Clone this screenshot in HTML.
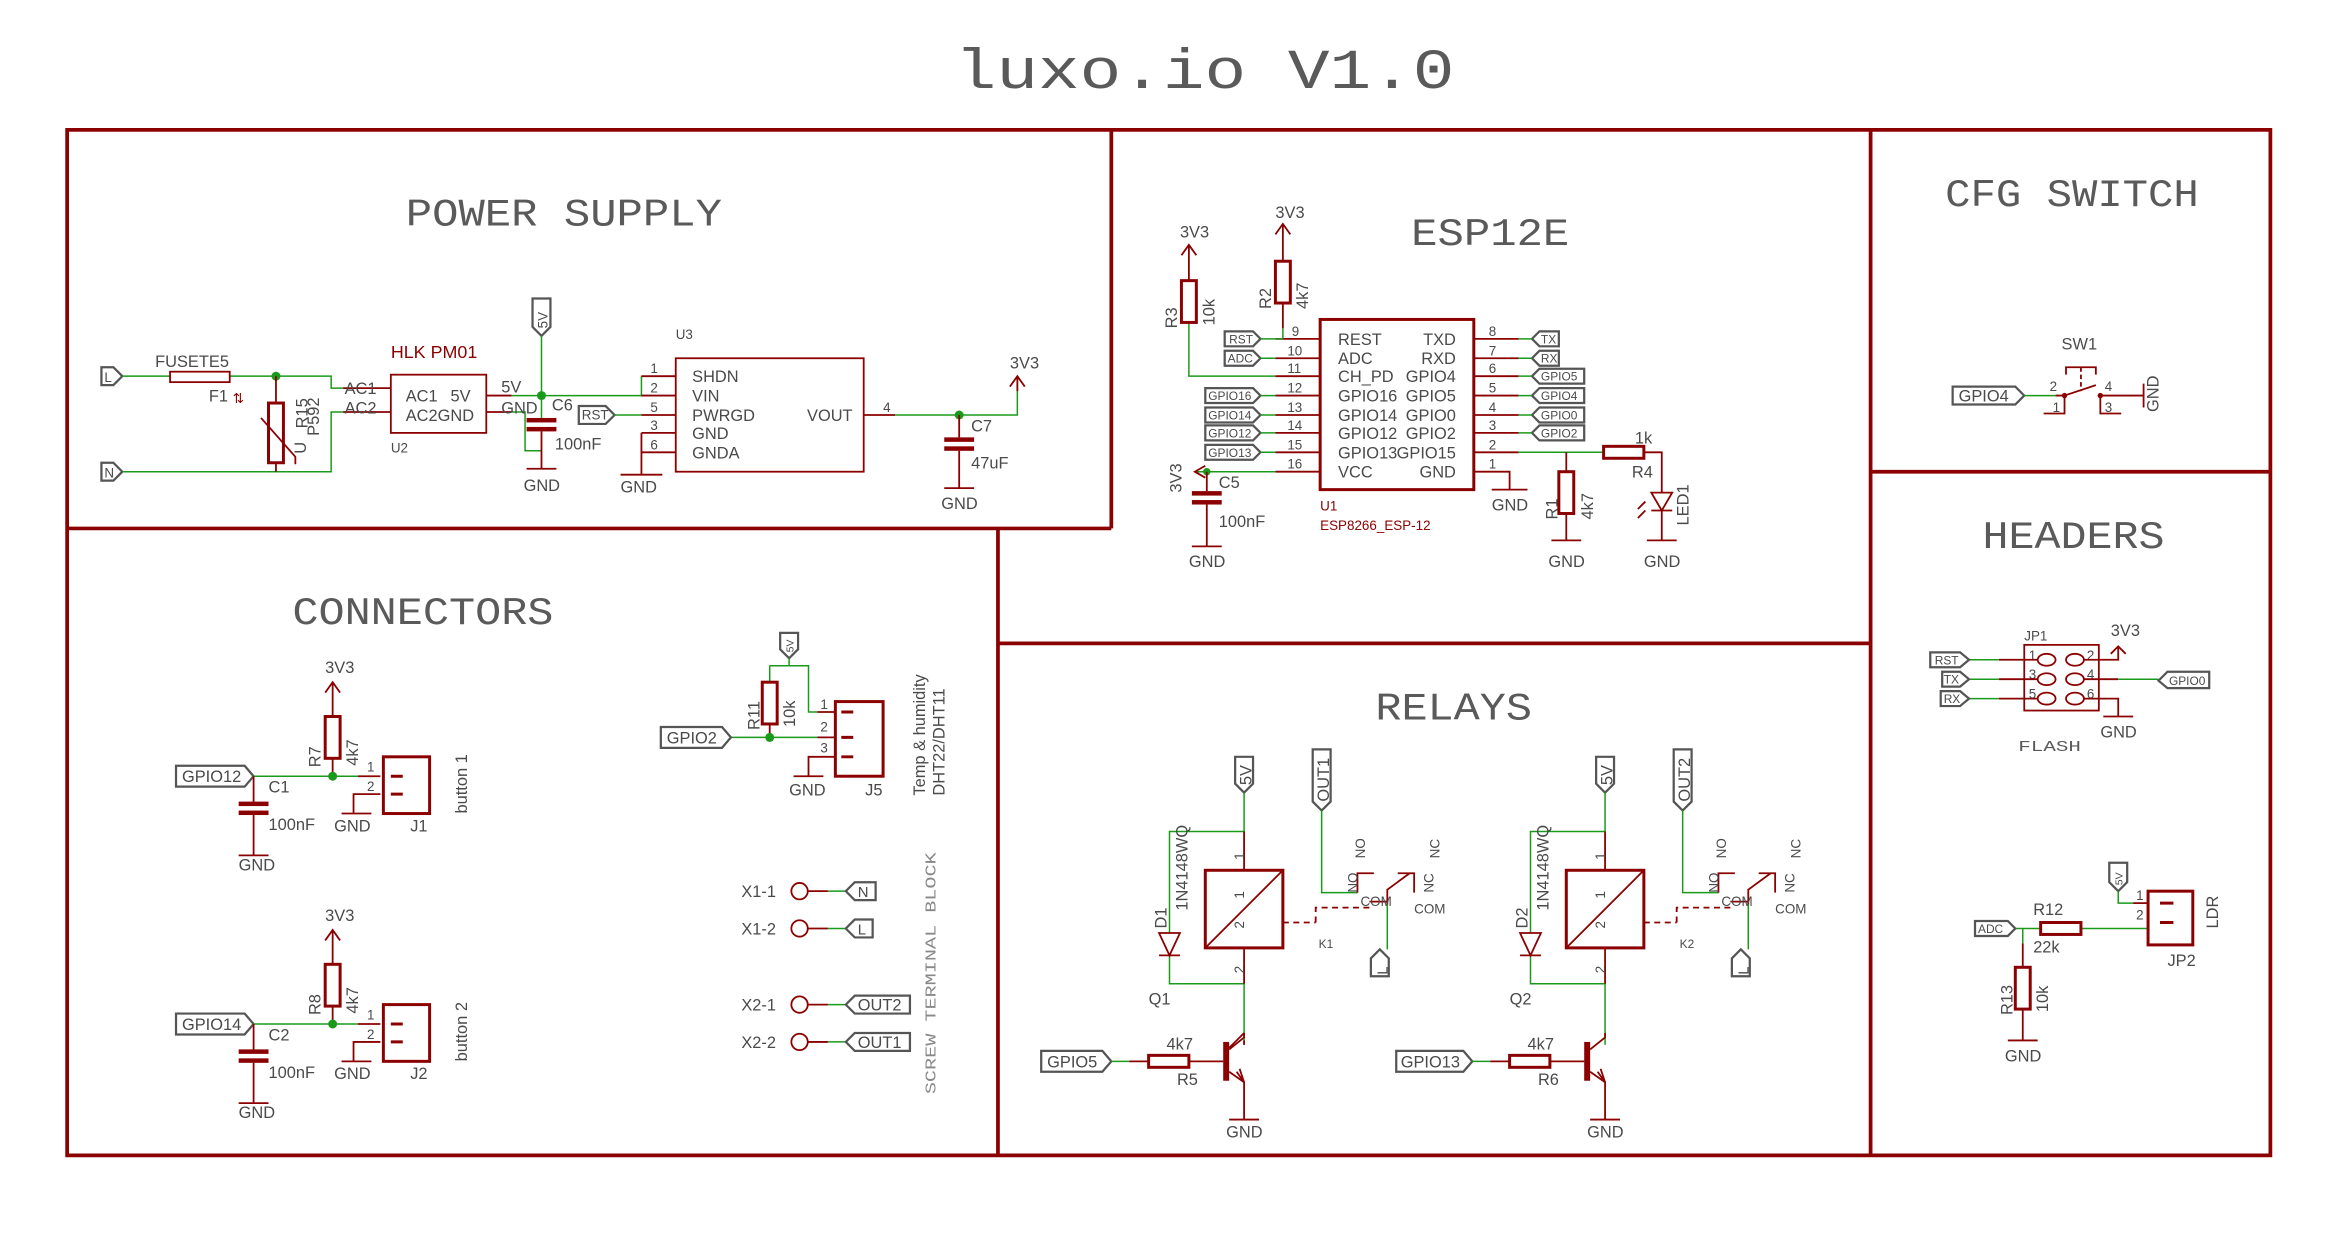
<!DOCTYPE html>
<html><head><meta charset="utf-8"><style>
html,body{margin:0;padding:0;background:#fff}
svg{display:block}
text{font-family:"Liberation Sans Narrow","Liberation Sans",sans-serif;fill:#4a4a4a}
.t{font-family:"Liberation Mono",monospace;fill:#5a5a5a;font-weight:normal}
.r{fill:none;stroke:#8b0000;stroke-width:1.2}
.b{fill:none;stroke:#8b0000;stroke-width:2}
.g{fill:none;stroke:#1a9a1a;stroke-width:1}
.f{fill:#fff;stroke:#555;stroke-width:1.5}
.red{fill:#8b0000}
.s{font-size:11px}
.xs{font-size:9px}
</style></head><body>
<svg width="2339" height="1233" viewBox="0 0 1568 826" preserveAspectRatio="none" xmlns="http://www.w3.org/2000/svg">
<!-- title -->
<text class="t" x="640" y="59" font-size="38" textLength="335" lengthAdjust="spacingAndGlyphs">luxo.io  V1.0</text>
<!-- frame -->
<g stroke="#8b0000" stroke-width="2.5" fill="none">
<rect x="45" y="87" width="1477" height="687"/>
<line x1="745" y1="87" x2="745" y2="354"/>
<line x1="45" y1="354" x2="745" y2="354"/>
<line x1="669" y1="354" x2="669" y2="774"/>
<line x1="669" y1="431" x2="1254" y2="431"/>
<line x1="1254" y1="87" x2="1254" y2="774"/>
<line x1="1254" y1="316" x2="1522" y2="316"/>
</g>
<!-- section titles -->
<g class="t" font-size="26">
<text class="t" x="272" y="151" textLength="212" lengthAdjust="spacingAndGlyphs">POWER SUPPLY</text>
<text class="t" x="946" y="164" textLength="106" lengthAdjust="spacingAndGlyphs">ESP12E</text>
<text class="t" x="1304" y="138" textLength="170" lengthAdjust="spacingAndGlyphs">CFG SWITCH</text>
<text class="t" x="1329" y="367" textLength="122" lengthAdjust="spacingAndGlyphs">HEADERS</text>
<text class="t" x="196" y="418" textLength="175" lengthAdjust="spacingAndGlyphs">CONNECTORS</text>
<text class="t" x="922" y="482" textLength="105" lengthAdjust="spacingAndGlyphs">RELAYS</text>
</g>

<!-- ================= POWER SUPPLY ================= -->
<path class="f" d="M68,246 h8 l6,6 l-6,6 h-8z"/><text class="xs" x="70" y="256">L</text>
<path class="f" d="M68,310 h8 l6,6 l-6,6 h-8z"/><text class="xs" x="70" y="320">N</text>
<path class="g" d="M82,252 H114 M154,252 H222 V260 H230 M82,316 H222 V276 H230"/>
<path class="r" d="M230,260 H262 M230,276 H262"/>
<rect class="r" x="114" y="249" width="40" height="7" stroke-width="1.5"/>
<circle cx="185" cy="252" r="3" fill="#1a9a1a"/>
<path class="r" d="M185,252 V270 M185,310 V316"/>
<rect class="b" x="180" y="270" width="10" height="40"/>
<path class="r" d="M175,280 L198,306 V311"/>
<text class="s" x="104" y="246">FUSETE5</text>
<text class="s" x="140" y="269">F1</text>
<text class="red xs" x="156" y="270">⇅</text>
<text class="s" transform="translate(206,287) rotate(-90)">R15</text>
<text class="s" transform="translate(214,292) rotate(-90)">P592</text>
<text class="s" transform="translate(205,304) rotate(-90)">U</text>
<text class="s" x="231" y="264">AC1</text>
<text class="s" x="231" y="277">AC2</text>
<rect class="r" x="262" y="251" width="64" height="39" stroke-width="1.5"/>
<text class="s" x="272" y="269">AC1</text><text class="s" x="302" y="269">5V</text>
<text class="s" x="272" y="282">AC2GND</text>
<text class="red" x="262" y="240" font-size="12">HLK PM01</text>
<text class="xs" x="262" y="303">U2</text>
<path class="r" d="M326,265 H343 M326,276 H343"/>
<path class="g" d="M343,265 H430 V252 M343,276 H352 V302 H363"/>
<circle cx="363" cy="265" r="3" fill="#1a9a1a"/>
<path class="f" d="M357,200 h12 v19 l-6,6 l-6,-6z"/><text class="xs" transform="translate(367,220) rotate(-90)">5V</text>
<path class="g" d="M363,225 V265 V280"/>
<rect class="red" x="353" y="280" width="20" height="3"/><rect class="red" x="353" y="286" width="20" height="3"/>
<path class="r" d="M363,289 V314 M353,314 H373"/>
<text class="s" x="336" y="263">5V</text><text class="s" x="336" y="277">GND</text>
<text class="s" x="370" y="275">C6</text><text class="s" x="372" y="301">100nF</text>
<text class="s" x="351" y="329">GND</text>
<!-- U3 -->
<rect class="r" x="453" y="240" width="126" height="76" stroke-width="1.5"/>
<path class="r" d="M430,252 H453 M430,265 H453 M430,278 H453 M430,290 H453 M430,303 H453 M430,290 V318 M416,318 H444"/>
<g class="xs"><text x="436" y="250">1</text><text x="436" y="263">2</text><text x="436" y="276">5</text><text x="436" y="288">3</text><text x="436" y="301">6</text></g>
<g class="s"><text x="464" y="256">SHDN</text><text x="464" y="269">VIN</text><text x="464" y="282">PWRGD</text><text x="464" y="294">GND</text><text x="464" y="307">GNDA</text><text x="541" y="282">VOUT</text></g>
<text class="xs" x="453" y="227">U3</text>
<path class="f" d="M388,272 h18 l6,6 l-6,6 h-18z"/><text class="xs" x="390" y="281" font-size="8">RST</text>
<path class="g" d="M412,278 H430"/>
<text class="s" x="416" y="330">GND</text>
<path class="r" d="M579,278 H600"/><text class="xs" x="592" y="276">4</text>
<path class="g" d="M600,278 H682 V255"/>
<path class="r" d="M682,262 V252 M677,259 L682,252 L687,259"/>
<circle cx="643" cy="278" r="3" fill="#1a9a1a"/>
<rect class="red" x="633" y="293" width="20" height="3"/><rect class="red" x="633" y="299" width="20" height="3"/>
<path class="r" d="M643,278 V293 M643,302 V327 M633,327 H653"/>
<text class="s" x="677" y="247">3V3</text><text class="s" x="651" y="289">C7</text><text class="s" x="651" y="314">47uF</text>
<text class="s" x="631" y="341">GND</text>

<!-- ================= ESP12E ================= -->
<rect class="b" x="885" y="214" width="103" height="114"/>
<g class="r">
<path d="M855,227 H885 M855,240 H885 M855,252 H885 M855,265 H885 M855,278 H885 M855,290 H885 M855,303 H885 M855,316 H885"/>
<path d="M988,227 H1018 M988,240 H1018 M988,252 H1018 M988,265 H1018 M988,278 H1018 M988,290 H1018 M988,303 H1018 M988,316 H1012 V328 M1000,328 H1024"/>
</g>
<g class="xs"><text x="866" y="225">9</text><text x="863" y="238">10</text><text x="863" y="250">11</text><text x="863" y="263">12</text><text x="863" y="276">13</text><text x="863" y="288">14</text><text x="863" y="301">15</text><text x="863" y="314">16</text>
<text x="998" y="225">8</text><text x="998" y="238">7</text><text x="998" y="250">6</text><text x="998" y="263">5</text><text x="998" y="276">4</text><text x="998" y="288">3</text><text x="998" y="301">2</text><text x="998" y="314">1</text></g>
<g class="s"><text x="897" y="231">REST</text><text x="897" y="244">ADC</text><text x="897" y="256">CH_PD</text><text x="897" y="269">GPIO16</text><text x="897" y="282">GPIO14</text><text x="897" y="294">GPIO12</text><text x="897" y="307">GPIO13</text><text x="897" y="320">VCC</text></g>
<g class="s" text-anchor="end"><text x="976" y="231">TXD</text><text x="976" y="244">RXD</text><text x="976" y="256">GPIO4</text><text x="976" y="269">GPIO5</text><text x="976" y="282">GPIO0</text><text x="976" y="294">GPIO2</text><text x="976" y="307">GPIO15</text><text x="976" y="320">GND</text></g>
<text class="red" x="885" y="342" font-size="9">U1</text><text class="red" x="885" y="355" font-size="9">ESP8266_ESP-12</text>
<!-- left flags -->
<g font-size="8">
<path class="f" d="M821,222 h19 l5,5 l-5,5 h-19z"/><text x="824" y="230" font-size="8">RST</text>
<path class="f" d="M821,235 h19 l5,5 l-5,5 h-19z"/><text x="823" y="243" font-size="8">ADC</text>
<path class="f" d="M808,260 h32 l5,5 l-5,5 h-32z"/><text x="810" y="268" font-size="8">GPIO16</text>
<path class="f" d="M808,273 h32 l5,5 l-5,5 h-32z"/><text x="810" y="281" font-size="8">GPIO14</text>
<path class="f" d="M808,285 h32 l5,5 l-5,5 h-32z"/><text x="810" y="293" font-size="8">GPIO12</text>
<path class="f" d="M808,298 h32 l5,5 l-5,5 h-32z"/><text x="810" y="306" font-size="8">GPIO13</text>
<path class="f" d="M1032,222 h13 v10 h-13 l-5,-5z"/><text x="1033" y="230" font-size="8">TX</text>
<path class="f" d="M1032,235 h13 v10 h-13 l-5,-5z"/><text x="1033" y="243" font-size="8">RX</text>
<path class="f" d="M1032,247 h30 v10 h-30 l-5,-5z"/><text x="1033" y="255" font-size="8">GPIO5</text>
<path class="f" d="M1032,260 h30 v10 h-30 l-5,-5z"/><text x="1033" y="268" font-size="8">GPIO4</text>
<path class="f" d="M1032,273 h30 v10 h-30 l-5,-5z"/><text x="1033" y="281" font-size="8">GPIO0</text>
<path class="f" d="M1032,285 h30 v10 h-30 l-5,-5z"/><text x="1033" y="293" font-size="8">GPIO2</text>
</g>
<path class="g" d="M845,227 H860 M845,240 H855 M845,265 H855 M845,278 H855 M845,290 H855 M845,303 H855 M1018,227 H1027 M1018,240 H1027 M1018,252 H1027 M1018,265 H1027 M1018,278 H1027 M1018,290 H1027 M1018,303 H1075"/>
<!-- R2 -->
<path class="r" d="M860,150 V175 M855,157 L860,150 L865,157 M860,203 V220"/><path class="g" d="M860,220 V227"/>
<rect class="b" x="855" y="175" width="10" height="28" stroke-width="1.5"/>
<text class="s" x="855" y="146">3V3</text>
<text class="s" transform="translate(852,207) rotate(-90)">R2</text><text class="s" transform="translate(877,207) rotate(-90)">4k7</text>
<!-- R3 -->
<path class="r" d="M797,164 V188 M792,171 L797,164 L802,171"/><path class="g" d="M797,216 V252 H855"/>
<rect class="b" x="792" y="188" width="10" height="28" stroke-width="1.5"/>
<text class="s" x="791" y="159">3V3</text>
<text class="s" transform="translate(789,220) rotate(-90)">R3</text><text class="s" transform="translate(814,218) rotate(-90)">10k</text>
<!-- VCC / C5 -->
<path class="g" d="M801,316 H855"/><path class="r" d="M808,312 L801,316 L808,320"/>
<circle cx="809" cy="316" r="2.5" fill="#1a9a1a"/>
<text class="s" transform="translate(792,330) rotate(-90)">3V3</text>
<rect class="red" x="799" y="329" width="20" height="3"/><rect class="red" x="799" y="335" width="20" height="3"/>
<path class="r" d="M809,316 V329 M809,338 V366 M799,366 H819"/>
<text class="s" x="817" y="327">C5</text><text class="s" x="817" y="353">100nF</text>
<text class="s" x="797" y="380">GND</text>
<text class="s" x="1000" y="342">GND</text>
<!-- R4 / LED / R1 -->
<rect class="b" x="1075" y="299" width="27" height="8" stroke-width="1.5"/>
<path class="r" d="M1102,303 H1114 V330 M1114,342 V362 M1104,362 H1124 M1050,303 V316 M1050,344 V362 M1040,362 H1060"/>
<path class="r" d="M1107,330 H1121 L1114,342 Z M1107,342 H1121" fill="none"/>
<path class="r" d="M1103,336 l-5,5 M1103,342 l-5,5"/>
<rect class="b" x="1045" y="316" width="10" height="28" stroke-width="1.5"/>
<text class="s" x="1096" y="297">1k</text><text class="s" x="1094" y="320">R4</text>
<text class="s" transform="translate(1132,352) rotate(-90)">LED1</text>
<text class="s" transform="translate(1044,348) rotate(-90)">R1</text><text class="s" transform="translate(1068,348) rotate(-90)">4k7</text>
<text class="s" x="1038" y="380">GND</text><text class="s" x="1102" y="380">GND</text>

<!-- ================= CFG SWITCH ================= -->
<path class="f" d="M1309,259 h42 l6,6 l-6,6 h-42z"/><text x="1313" y="269" font-size="11">GPIO4</text>
<path class="g" d="M1357,265 H1378"/>
<path class="r" d="M1378,265 H1384 V277 H1370 M1384,265 L1405,258 M1408,265 H1437 M1408,265 V277 H1422 M1437,257 V273"/>
<circle cx="1384" cy="265" r="1.8" fill="#8b0000"/><circle cx="1408" cy="265" r="1.8" fill="#8b0000"/>
<path class="r" d="M1385,251 V246 H1405 V251"/><path class="r" d="M1395,246 V262" stroke-dasharray="3,2"/>
<g class="xs"><text x="1374" y="262">2</text><text x="1376" y="276">1</text><text x="1411" y="262">4</text><text x="1411" y="276">3</text></g>
<text class="s" x="1382" y="234">SW1</text>
<text class="s" transform="translate(1447,276) rotate(-90)">GND</text>

<!-- ================= HEADERS ================= -->
<rect class="r" x="1357" y="432" width="50" height="44" stroke-width="1.5"/>
<g class="r"><ellipse cx="1372" cy="442" rx="6" ry="4"/><ellipse cx="1391" cy="442" rx="6" ry="4"/><ellipse cx="1372" cy="455" rx="6" ry="4"/><ellipse cx="1391" cy="455" rx="6" ry="4"/><ellipse cx="1372" cy="468" rx="6" ry="4"/><ellipse cx="1391" cy="468" rx="6" ry="4"/></g>
<g class="xs"><text x="1360" y="442">1</text><text x="1360" y="455">3</text><text x="1360" y="468">5</text><text x="1399" y="442">2</text><text x="1399" y="455">4</text><text x="1399" y="468">6</text></g>
<path class="r" d="M1340,442 H1366 M1340,455 H1366 M1340,468 H1366 M1397,442 H1420 V434 M1415,438 L1420,433 L1425,438 M1397,455 H1420 M1397,468 H1420 V480 M1410,480 H1430"/>
<path class="g" d="M1320,442 H1340 M1320,455 H1340 M1320,468 H1340 M1420,455 H1447"/>
<path class="f" d="M1294,437 h20 l6,5 l-6,5 h-20z"/><text x="1297" y="445" font-size="8">RST</text>
<path class="f" d="M1302,450 h12 l6,5 l-6,5 h-12z"/><text x="1303" y="458" font-size="8">TX</text>
<path class="f" d="M1301,463 h13 l6,5 l-6,5 h-13z"/><text x="1303" y="471" font-size="8">RX</text>
<path class="f" d="M1453,450 h28 v11 h-28 l-6,-5z"/><text x="1454" y="459" font-size="8">GPIO0</text>
<text class="xs" x="1357" y="429">JP1</text>
<text class="s" x="1415" y="426">3V3</text><text class="s" x="1408" y="494">GND</text>
<text class="t" x="1353" y="503" font-size="10" textLength="42" lengthAdjust="spacingAndGlyphs">FLASH</text>
<!-- LDR -->
<path class="f" d="M1414,578 h12 v13 l-6,6 l-6,-6z"/><text font-size="7" transform="translate(1423,593) rotate(-90)">5V</text>
<path class="g" d="M1420,597 V605 H1430 M1345,622 H1368 M1356,622 V632 M1395,622 H1440"/>
<path class="r" d="M1430,605 H1440 M1356,632 V648 M1356,676 V697 M1346,697 H1366"/>
<rect class="b" x="1440" y="597" width="30" height="36"/>
<path class="b" d="M1448,605 H1457 M1448,618 H1457" stroke-width="3"/>
<g class="xs"><text x="1432" y="603">1</text><text x="1432" y="616">2</text></g>
<rect class="b" x="1368" y="618" width="27" height="8" stroke-width="1.5"/>
<rect class="b" x="1351" y="648" width="10" height="28" stroke-width="1.5"/>
<path class="f" d="M1324,617 h22 l5,5 l-5,5 h-22z"/><text x="1326" y="625" font-size="8">ADC</text>
<text class="s" x="1363" y="613">R12</text><text class="s" x="1363" y="638">22k</text>
<text class="s" transform="translate(1349,680) rotate(-90)">R13</text><text class="s" transform="translate(1373,678) rotate(-90)">10k</text>
<text class="s" x="1344" y="711">GND</text><text class="s" x="1453" y="647">JP2</text>
<text class="s" transform="translate(1487,622) rotate(-90)">LDR</text>

<!-- ================= CONNECTORS ================= -->
<g id="btn">
<path class="f" d="M118,513 h46 l6,7 l-6,7 h-46z"/><text x="122" y="524" font-size="11">GPIO12</text>
<path class="g" d="M170,520 H240"/><path class="r" d="M240,520 H255 M170,520 V538 M170,546 V573 M160,573 H180 M223,457 V480 M218,464 L223,457 L228,464 M223,508 V520 M255,532 H237 V545 M229,545 H249"/>
<circle cx="223" cy="520" r="3" fill="#1a9a1a"/>
<rect class="red" x="160" y="537" width="20" height="3"/><rect class="red" x="160" y="543" width="20" height="3"/>
<rect class="b" x="218" y="480" width="10" height="28" stroke-width="1.5"/>
<rect class="b" x="257" y="507" width="31" height="38"/>
<path class="b" d="M262,520 H270 M262,532 H270" stroke-width="3"/>
<g class="xs"><text x="246" y="517">1</text><text x="246" y="530">2</text></g>
<text class="s" x="218" y="451">3V3</text>
<text class="s" transform="translate(215,514) rotate(-90)">R7</text><text class="s" transform="translate(240,513) rotate(-90)">4k7</text>
<text class="s" x="180" y="531">C1</text><text class="s" x="180" y="556">100nF</text>
<text class="s" x="224" y="557">GND</text><text class="s" x="275" y="557">J1</text>
<text class="s" x="160" y="583">GND</text>
<text class="s" transform="translate(313,545) rotate(-90)">button 1</text>
</g>
<g transform="translate(0,166)">
<path class="f" d="M118,513 h46 l6,7 l-6,7 h-46z"/><text x="122" y="524" font-size="11">GPIO14</text>
<path class="g" d="M170,520 H240"/><path class="r" d="M240,520 H255 M170,520 V538 M170,546 V573 M160,573 H180 M223,457 V480 M218,464 L223,457 L228,464 M223,508 V520 M255,532 H237 V545 M229,545 H249"/>
<circle cx="223" cy="520" r="3" fill="#1a9a1a"/>
<rect class="red" x="160" y="537" width="20" height="3"/><rect class="red" x="160" y="543" width="20" height="3"/>
<rect class="b" x="218" y="480" width="10" height="28" stroke-width="1.5"/>
<rect class="b" x="257" y="507" width="31" height="38"/>
<path class="b" d="M262,520 H270 M262,532 H270" stroke-width="3"/>
<g class="xs"><text x="246" y="517">1</text><text x="246" y="530">2</text></g>
<text class="s" x="218" y="451">3V3</text>
<text class="s" transform="translate(215,514) rotate(-90)">R8</text><text class="s" transform="translate(240,513) rotate(-90)">4k7</text>
<text class="s" x="180" y="531">C2</text><text class="s" x="180" y="556">100nF</text>
<text class="s" x="224" y="557">GND</text><text class="s" x="275" y="557">J2</text>
<text class="s" x="160" y="583">GND</text>
<text class="s" transform="translate(313,545) rotate(-90)">button 2</text>
</g>
<!-- J5 -->
<path class="f" d="M523,424 h12 v11 l-6,6 l-6,-6z"/><text font-size="7" transform="translate(532,437) rotate(-90)">5V</text>
<path class="g" d="M529,441 V446 M516,446 H542 V477 H548 M490,494 H548 M516,446 V457"/>
<path class="r" d="M548,477 H560 M548,494 H560 M560,507 H542 V520 M532,520 H552 M516,485 V494"/>
<circle cx="516" cy="494" r="3" fill="#1a9a1a"/>
<rect class="b" x="511" y="457" width="10" height="28" stroke-width="1.5"/>
<rect class="b" x="560" y="470" width="32" height="50"/>
<path class="b" d="M564,477 H572 M564,494 H572 M564,507 H572" stroke-width="3"/>
<g class="xs"><text x="550" y="475">1</text><text x="550" y="490">2</text><text x="550" y="504">3</text></g>
<path class="f" d="M443,487 h41 l6,7 l-6,7 h-41z"/><text x="447" y="498" font-size="11">GPIO2</text>
<text class="s" transform="translate(509,489) rotate(-90)">R11</text><text class="s" transform="translate(533,487) rotate(-90)">10k</text>
<text class="s" x="529" y="533">GND</text><text class="s" x="580" y="533">J5</text>
<text class="s" transform="translate(620,533) rotate(-90)">Temp &amp; humidity</text>
<text class="s" transform="translate(633,533) rotate(-90)">DHT22/DHT11</text>
<!-- terminals -->
<g class="r" stroke-width="2.5"><circle cx="536" cy="597" r="5.5"/><circle cx="536" cy="622" r="5.5"/><circle cx="536" cy="673" r="5.5"/><circle cx="536" cy="698" r="5.5"/></g>
<path class="r" d="M542,597 H555 M542,622 H555 M542,673 H555 M542,698 H555"/>
<path class="g" d="M555,597 H567 M555,622 H567 M555,673 H567 M555,698 H567"/>
<g class="s"><text x="497" y="601">X1-1</text><text x="497" y="626">X1-2</text><text x="497" y="677">X2-1</text><text x="497" y="702">X2-2</text></g>
<path class="f" d="M573,591 h14 v12 h-14 l-6,-6z"/><text x="575" y="601" font-size="10">N</text>
<path class="f" d="M573,616 h12 v12 h-12 l-6,-6z"/><text x="575" y="626" font-size="10">L</text>
<path class="f" d="M573,667 h37 v12 h-37 l-6,-6z"/><text x="575" y="677" font-size="11">OUT2</text>
<path class="f" d="M573,692 h37 v12 h-37 l-6,-6z"/><text x="575" y="702" font-size="11">OUT1</text>
<text class="t" font-size="10" transform="translate(627,733) rotate(-90)" textLength="162" lengthAdjust="spacingAndGlyphs" style="fill:#888">SCREW  TERMINAL  BLOCK</text>

<!-- ================= RELAYS ================= -->
<g id="rel">
<path class="f" d="M828,507 h12 v18 l-6,6 l-6,-6z"/><text font-size="11" transform="translate(839,526) rotate(-90)">5V</text>
<path class="g" d="M834,531 V557 H784 V625 M784,640 V659 H834 V700"/>
<path class="r" d="M834,557 V583 M834,635 V659 M834,700 V697 M834,692 L824,702"/>
<path class="r" d="M777,625 H791 L784,640 Z M777,640 H791" stroke-width="1.5"/>
<rect class="b" x="808" y="583" width="52" height="52"/>
<path class="r" d="M808,635 L860,583" stroke-width="1.5"/>
<g class="xs"><text transform="translate(834,576) rotate(-90)">1</text><text transform="translate(834,602) rotate(-90)">1</text><text transform="translate(834,622) rotate(-90)">2</text><text transform="translate(834,652) rotate(-90)">2</text></g>
<rect class="red" x="820" y="698" width="4" height="26"/>
<path class="r" d="M824,703 L834,695 V692 M824,718 L834,725 V750 M824,750 H844"/>
<path class="r" d="M829,718 L834,725 L831,716" stroke-width="1"/>
<path class="f" d="M698,704 h41 l6,7 l-6,7 h-41z"/><text x="702" y="715" font-size="11">GPIO5</text>
<path class="g" d="M745,711 H757"/><path class="r" d="M757,711 H770 M797,711 H820"/>
<rect class="b" x="770" y="707" width="27" height="8" stroke-width="1.5"/>
<text class="s" x="782" y="703">4k7</text><text class="s" x="789" y="727">R5</text>
<text class="s" x="770" y="673">Q1</text>
<text class="s" x="822" y="762">GND</text>
<text class="s" transform="translate(782,622) rotate(-90)">D1</text><text class="s" transform="translate(796,610) rotate(-90)">1N4148WQ</text>
<text x="884" y="635" font-size="8">K1</text>
<path class="f" d="M880,502 h12 v35 l-6,6 l-6,-6z"/><text font-size="11" transform="translate(891,537) rotate(-90)">OUT1</text>
<path class="g" d="M886,543 V598 H910"/>
<path class="r" d="M910,598 V585 H921 M937,585 H948 V598 M930,606 V596 L945,585 M918,604 H930"/>
<path class="r" d="M860,618 H882 M882,618 V608 H918" stroke-dasharray="4,3" stroke-width="1.5"/>
<path class="g" d="M930,606 V636"/>
<path class="f" d="M919,642 l6,-6 l6,6 v12 h-12z"/><text font-size="10" transform="translate(930,653) rotate(-90)">L</text>
<g font-size="9"><text transform="translate(915,575) rotate(-90)">NO</text><text transform="translate(965,575) rotate(-90)">NC</text><text transform="translate(910,598) rotate(-90)">NO</text><text transform="translate(961,598) rotate(-90)">NC</text><text x="912" y="607">COM</text><text x="948" y="612">COM</text></g>
</g>
<g transform="translate(242,0)">
<path class="f" d="M828,507 h12 v18 l-6,6 l-6,-6z"/><text font-size="11" transform="translate(839,526) rotate(-90)">5V</text>
<path class="g" d="M834,531 V557 H784 V625 M784,640 V659 H834 V700"/>
<path class="r" d="M834,557 V583 M834,635 V659"/>
<path class="r" d="M777,625 H791 L784,640 Z M777,640 H791" stroke-width="1.5"/>
<rect class="b" x="808" y="583" width="52" height="52"/>
<path class="r" d="M808,635 L860,583" stroke-width="1.5"/>
<g class="xs"><text transform="translate(834,576) rotate(-90)">1</text><text transform="translate(834,602) rotate(-90)">1</text><text transform="translate(834,622) rotate(-90)">2</text><text transform="translate(834,652) rotate(-90)">2</text></g>
<rect class="red" x="820" y="698" width="4" height="26"/>
<path class="r" d="M824,703 L834,695 V692 M824,718 L834,725 V750 M824,750 H844"/>
<path class="r" d="M829,718 L834,725 L831,716" stroke-width="1"/>
<path class="f" d="M694,704 h45 l6,7 l-6,7 h-45z"/><text x="697" y="715" font-size="11">GPIO13</text>
<path class="g" d="M745,711 H757"/><path class="r" d="M757,711 H770 M797,711 H820"/>
<rect class="b" x="770" y="707" width="27" height="8" stroke-width="1.5"/>
<text class="s" x="782" y="703">4k7</text><text class="s" x="789" y="727">R6</text>
<text class="s" x="770" y="673">Q2</text>
<text class="s" x="822" y="762">GND</text>
<text class="s" transform="translate(782,622) rotate(-90)">D2</text><text class="s" transform="translate(796,610) rotate(-90)">1N4148WQ</text>
<text x="884" y="635" font-size="8">K2</text>
<path class="f" d="M880,502 h12 v35 l-6,6 l-6,-6z"/><text font-size="11" transform="translate(891,537) rotate(-90)">OUT2</text>
<path class="g" d="M886,543 V598 H910"/>
<path class="r" d="M910,598 V585 H921 M937,585 H948 V598 M930,606 V596 L945,585 M918,604 H930"/>
<path class="r" d="M860,618 H882 M882,618 V608 H918" stroke-dasharray="4,3" stroke-width="1.5"/>
<path class="g" d="M930,606 V636"/>
<path class="f" d="M919,642 l6,-6 l6,6 v12 h-12z"/><text font-size="10" transform="translate(930,653) rotate(-90)">L</text>
<g font-size="9"><text transform="translate(915,575) rotate(-90)">NO</text><text transform="translate(965,575) rotate(-90)">NC</text><text transform="translate(910,598) rotate(-90)">NO</text><text transform="translate(961,598) rotate(-90)">NC</text><text x="912" y="607">COM</text><text x="948" y="612">COM</text></g>
</g>
</svg>
</body></html>
